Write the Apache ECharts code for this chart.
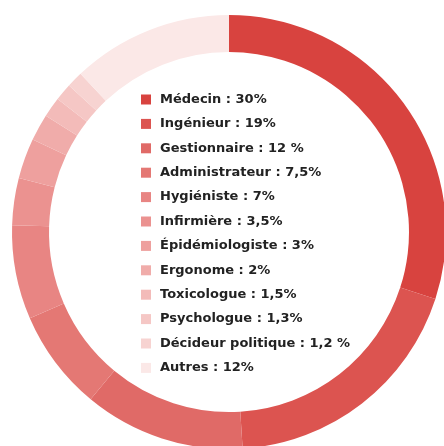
<!DOCTYPE html>
<html><head><meta charset="utf-8">
<script src="https://cdn.jsdelivr.net/npm/echarts@6/dist/echarts.min.js"></script>
<style>html,body{margin:0;padding:0;background:#fff}#c{width:444px;height:446px}</style>
</head><body><div id="c"></div>
<script>
var categories = ["Médecin","Ingénieur","Gestionnaire","Administrateur","Hygiéniste","Infirmière","Épidémiologiste","Ergonome","Toxicologue","Psychologue","Décideur politique","Autres"];
var values = [30, 19, 12, 7.5, 7, 3.5, 3, 2, 1.5, 1.3, 1.2, 12];
var valueLabels = ["30%","19%","12 %","7,5%","7%","3,5%","3%","2%","1,5%","1,3%","1,2 %","12%"];
var colors = ["#d8433f","#dc5450","#e06a67","#e47874","#e88583","#eb9290","#eea09e","#f0acaa","#f3bbb9","#f5c7c5","#f7d3d1","#fbe8e7"];

var chart = echarts.init(document.getElementById('c'));
chart.setOption({
  animation: false,
  color: colors,
  legend: {
    orient: 'vertical',
    left: 136,
    top: 88,
    itemWidth: 10,
    itemHeight: 10,
    itemGap: 11.4,
    icon: 'rect',
    textStyle: {fontFamily: 'DejaVu Sans', fontWeight: 'bold', fontSize: 13, color: '#222', padding: [0,0,0,4]},
    formatter: function(name){ var i = categories.indexOf(name); return name + ' : ' + valueLabels[i]; },
    data: categories
  },
  series: [{
    type: 'pie',
    center: [229, 232],
    radius: [180, 217],
    startAngle: 90,
    clockwise: true,
    label: {show: false},
    labelLine: {show: false},
    emphasis: {disabled: true},
    itemStyle: {borderWidth: 0},
    data: categories.map(function(c,i){ return {name: c, value: values[i]}; })
  }]
});
</script></body></html>
